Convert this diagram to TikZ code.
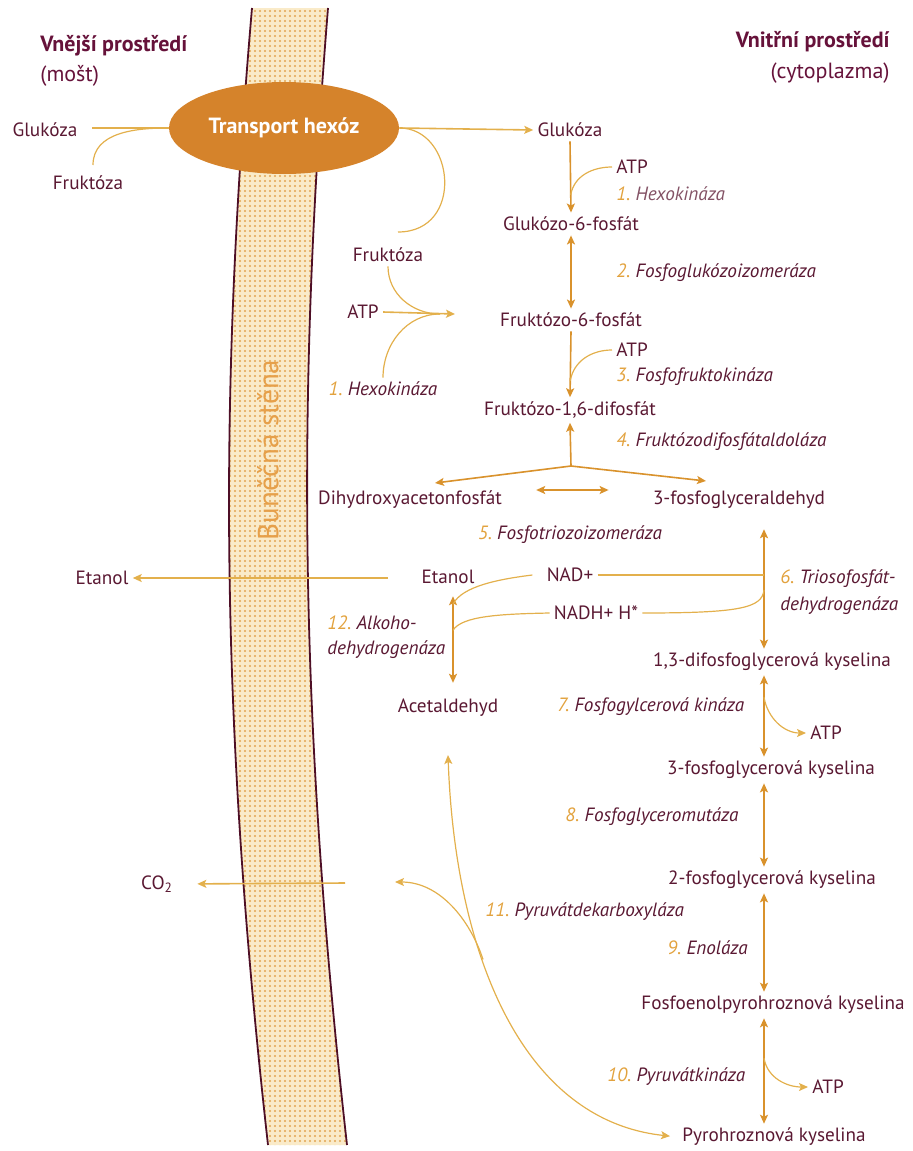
\documentclass[tikz,border=0pt]{standalone}
\usepackage{fontspec}
\setmainfont{PT Sans}
\usepackage{tikz}
\usetikzlibrary{arrows.meta,positioning,calc,shapes.geometric,patterns.meta}
\definecolor{kvInk}   {HTML}{5A1832}
\definecolor{kvHead}  {HTML}{66123A}
\definecolor{kvArrow} {HTML}{D9922C}
\definecolor{kvLine}  {HTML}{E3B04C}
\definecolor{kvNum}   {HTML}{E2A23E}
\definecolor{kvHexo}  {HTML}{D5832B}
\definecolor{kvWall}  {HTML}{FAEBC9}
\definecolor{kvDot}   {HTML}{E2A552}
\definecolor{kvEdge}  {HTML}{4E0F26}
\definecolor{kvWallTx}{HTML}{E6A04A}
\newcommand{\enz}[2]{{\color{kvNum}#1.}\ #2}
\tikzset{
  lbl/.style={text=kvInk, inner sep=2pt, font=\fontsize{9.6}{11}\selectfont},
  enzlbl/.style={lbl, anchor=west, font=\fontsize{9.6}{11}\selectfont\itshape},
  head/.style={text=kvHead, inner sep=0pt, font=\fontsize{11}{13}\selectfont\bfseries},
  arr/.style={draw=kvArrow, line width=0.8pt, ->},
  dbl/.style={draw=kvArrow, line width=0.8pt, <->},
  link/.style={draw=kvLine, line width=0.6pt},
}

\begin{document}
\begin{tikzpicture}[x=0.5pt, y=-0.5pt, >={Stealth[length=4.5pt,width=4pt,inset=1pt]}]
  \useasboundingbox (0,0) rectangle (913,1151);
  % bunecna stena
  \path[fill=kvWall, postaction={pattern={Dots[radius=0.6pt,distance=2.5pt]}, pattern color=kvDot}]
    (252,8) .. controls (220,380) and (218,700) .. (268,1145)
    -- (347,1145) .. controls (297,700) and (298,380) .. (328,8) -- cycle;
  \draw[kvEdge, line width=0.9pt] (252,8) .. controls (220,380) and (218,700) .. (268,1145);
  \draw[kvEdge, line width=0.9pt] (328,8) .. controls (298,380) and (297,700) .. (347,1145);
  \node[rotate=90, text=kvWallTx, font=\fontsize{14.5}{14}\selectfont] (wall) at (268,450) {Buněčná stěna};

  \node[head, anchor=west] (outer) at (40,46) {Vnější prostředí};
  \node[head, anchor=west, font=\fontsize{11}{13}\selectfont] (must) at (40,76) {(mošt)};
  \node[head, anchor=east] (inner) at (890,42) {Vnitřní prostředí};
  \node[head, anchor=east, font=\fontsize{11}{13}\selectfont] (cyto) at (890,73) {(cytoplazma)};

  \node[ellipse, fill=kvHexo, minimum width=115pt, minimum height=46pt, inner sep=0pt,
        text=white, font=\fontsize{11}{13}\selectfont\bfseries] (hexo) at (284,128) {Transport hexóz};

  \node[lbl] (glcOut) at (45,130) {Glukóza};
  \node[lbl] (fruOut) at (88,183) {Fruktóza};
  \node[lbl] (glcIn) at (570,130) {Glukóza};
  \node[lbl] (fruIn) at (388,255) {Fruktóza};
  \node[lbl] (atpH) at (363,312) {ATP};
  \node[enzlbl, anchor=center] (hexoL) at (383,389) {\enz{1}{Hexokináza}};

  \node[lbl] (g6p) at (571,224) {Glukózo-6-fosfát};
  \node[lbl] (f6p) at (571,320) {Fruktózo-6-fosfát};
  \node[lbl] (f16) at (570,410) {Fruktózo-1,6-difosfát};
  \node[lbl, anchor=west] (atp1) at (612,167) {ATP};
  \node[enzlbl, text=kvInk!75] (enz1) at (612,194) {\enz{1}{Hexokináza}};
  \node[enzlbl] (enz2) at (612,273) {\enz{2}{Fosfoglukózoizomeráza}};
  \node[lbl, anchor=west] (atp3) at (612,350) {ATP};
  \node[enzlbl] (enz3) at (612,377) {\enz{3}{Fosfofruktokináza}};
  \node[enzlbl] (enz4) at (612,442) {\enz{4}{Fruktózodifosfátaldoláza}};

  \node[lbl] (dhap) at (410,500) {Dihydroxyacetonfosfát};
  \node[lbl] (gap) at (739,500) {3-fosfoglyceraldehyd};
  \node[enzlbl, anchor=center] (enz5) at (570,535) {\enz{5}{Fosfotriozoizomeráza}};

  \node[lbl] (etIn) at (448,577) {Etanol};
  \node[lbl] (nad) at (570,575) {NAD+};
  \node[lbl] (nadh) at (596,613) {NADH+ H*};
  \node[enzlbl] (enz6a) at (776,579) {\enz{6}{Triosofosfát-}};
  \node[enzlbl] (enz6b) at (776,606) {dehydrogenáza};
  \node[enzlbl] (enz12a) at (323,623) {\enz{12}{Alkoho-}};
  \node[enzlbl] (enz12b) at (323,650) {dehydrogenáza};
  \node[lbl] (acet) at (448,708) {Acetaldehyd};
  \node[lbl] (etOut) at (102,578) {Etanol};
  \node[lbl] (co2) at (157,884) {CO\textsubscript{2}};

  \node[lbl] (bpg) at (772,662) {1,3-difosfoglycerová kyselina};
  \node[enzlbl] (enz7) at (553,707) {\enz{7}{Fosfogylcerová kináza}};
  \node[lbl, anchor=west] (atp7) at (806,733) {ATP};
  \node[lbl] (pg3) at (771,770) {3-fosfoglycerová kyselina};
  \node[enzlbl] (enz8) at (561,817) {\enz{8}{Fosfoglyceromutáza}};
  \node[lbl] (pg2) at (772,880) {2-fosfoglycerová kyselina};
  \node[enzlbl] (enz11) at (481,912) {\enz{11}{Pyruvátdekarboxyláza}};
  \node[enzlbl] (enz9) at (663,948) {\enz{9}{Enoláza}};
  \node[lbl] (pep) at (773,1005) {Fosfoenolpyrohroznová kyselina};
  \node[enzlbl] (enz10) at (603,1077) {\enz{10}{Pyruvátkináza}};
  \node[lbl, anchor=west] (atp10) at (808,1087) {ATP};
  \node[lbl] (pyr) at (774,1137) {Pyrohroznová kyselina};

  \coordinate (glcL) at (92,128);
  \coordinate (fruL) at (93,165);
  \coordinate (fruEnd) at (398,232);
  \coordinate (hxm) at (440,314);
  \coordinate (hxt) at (455,314);
  \coordinate (split) at (571,466);
  \coordinate (dhapIn) at (435,483);
  \coordinate (gapIn) at (706,481);
  \coordinate (colA) at (453,0);
  \coordinate (colB) at (764,0);
  \coordinate (nadhJ) at (764,590);
  \coordinate (etS) at (388,578);
  \coordinate (co2S) at (345,883);
  \coordinate (acetIn) at (448,755);
  \coordinate (co2In) at (395,882);

  % transport
  \draw[link] (glcL) -- (hexo.west);
  \draw[link] (fruL) to[out=90,in=180] (hexo.west);
  \draw[arr, draw=kvLine] (hexo.east) -- (glcIn.west);
  \draw[link] (hexo.east) .. controls (455,128) and (465,232) .. (fruEnd);
  \draw[link] (fruIn.south) to[out=-90,in=180] (hxm);
  \draw[link] (hexoL.north) to[out=90,in=180] (hxm);
  \draw[arr, draw=kvLine] (atpH.east) -- (hxt);

  % glykolyza
  \draw[arr] (glcIn.south) -- (g6p.north);
  \draw[link] (atp1.west) to[out=180,in=80] ($(glcIn.south)!0.75!(g6p.north)$);
  \draw[dbl] (g6p.south) -- (f6p.north);
  \draw[arr] (f6p.south) -- (f16.north);
  \draw[link] (atp3.west) to[out=180,in=80] ($(f6p.south)!0.75!(f16.north)$);
  \draw[arr] (split) -- (f16.south);
  \draw[arr] (split) -- (dhapIn);
  \draw[arr] (split) -- (gapIn);
  \draw[dbl, shorten <=15pt, shorten >=20pt] ([yshift=5pt]dhap.east) -- ([yshift=5pt]gap.west);
  \draw[dbl, shorten <=8pt] (gap.south -| colB) -- (bpg.north -| colB);
  \draw[link] (nad.east) -- (nad.east -| colB);
  \draw[link] (nadh.east) .. controls (740,613) and (762,608) .. (nadhJ);

  % etanol
  \draw[dbl, shorten <=4pt, shorten >=6pt] (etIn.south -| colA) -- (acet.north -| colA);
  \draw[link] ([xshift=-5pt]nad.west) .. controls (500,579) and (462,586) .. ($(etIn.south -| colA)+(0,16)$);
  \draw[link] (nadh.west) .. controls (500,614) and (462,616) .. ($(etIn.south -| colA)+(0,42)$);
  \draw[arr, draw=kvLine] (etS) -- (etOut.east);
  \draw[arr, draw=kvLine, shorten >=10pt] (co2S) -- (co2.east);

  \draw[dbl] (bpg.south -| colB) -- (pg3.north -| colB);
  \draw[link, ->] ($(bpg.south -| colB)+(0,22)$) to[out=-80,in=180] (atp7.west);
  \draw[dbl] (pg3.south -| colB) -- (pg2.north -| colB);
  \draw[dbl] (pg2.south -| colB) -- (pep.north -| colB);
  \draw[dbl] (pep.south -| colB) -- (pyr.north -| colB);
  \draw[link, ->] ($(pep.south -| colB)+(0,40)$) to[out=-80,in=180] (atp10.west);

  % pyruvat
  \draw[link, <->, shorten >=4pt] (acetIn) .. controls (455,950) and (520,1120) .. coordinate[pos=0.38] (fork) (pyr.west);
  \draw[link, ->] (fork) .. controls (470,920) and (440,882) .. (co2In);
\end{tikzpicture}
\end{document}
